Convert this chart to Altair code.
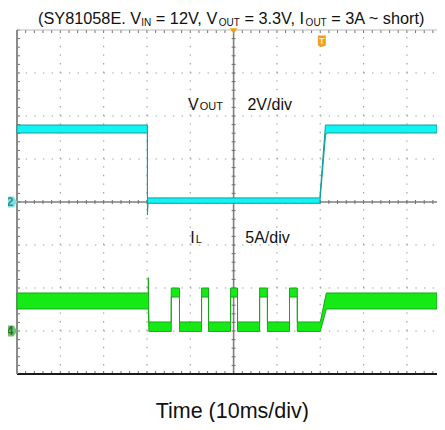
import altair as alt
import pandas as pd
import numpy as np

# ---------------- scope settings ----------------
T_END = 96.95         # visible part of the 10 x 10 ms screen (ms)
V_PER_DIV = 2.0       # CH2 : Vout, 2 V/div, ground at 0 div
A_PER_DIV = 5.0       # CH4 : IL, 5 A/div, ground at -3 div
V_GND = 0.0
I_GND = -3.0

# ---------------- Vout envelope (V) ----------------
vout_t  = [0.0, 30.1, 30.11, 30.25, 69.9, 71.2, 71.4, 96.95]
vout_hi = [3.58, 3.58, 0.19, 0.19, 0.19, 3.58, 3.58, 3.58]
vout_lo = [3.21, 3.21, -0.60, -0.06, -0.06, 3.05, 3.21, 3.21]

# ---------------- IL envelope (A) ----------------
il_t  = [0.0, 30.3, 30.31, 30.45, 35.6, 35.61, 37.5, 37.51, 42.6, 42.61, 44.2, 44.21,
         49.3, 49.31, 50.9, 50.91, 56.0, 56.01, 57.8, 57.81, 62.9, 62.91, 64.7, 64.71,
         70.0, 71.4, 96.95]
il_hi = [4.42, 4.42, 6.2, 1.05, 1.05, 5.0, 5.0, 1.05, 1.05, 5.0, 5.0, 1.05,
         1.05, 5.0, 5.0, 1.05, 1.05, 5.0, 5.0, 1.05, 1.05, 5.0, 5.0, 1.05,
         1.05, 4.42, 4.42]
il_lo = [2.56, 2.56, 2.56, -0.05, -0.05, 3.95, 3.95, -0.05, -0.05, 3.95, 3.95, -0.05,
         -0.05, 3.95, 3.95, -0.05, -0.05, 3.95, 3.95, -0.05, -0.05, 3.95, 3.95, -0.05,
         -0.05, 2.56, 2.56]

# ---------------- texts ----------------
title_segments = [("(SY81058E. V", False), ("IN", True), (" = 12V, V", False), ("OUT", True),
                  (" = 3.3V, I", False), ("OUT", True), (" = 3A ~ short)", False)]
x_label = "Time (10ms/div)"
ch_labels = [("V", "OUT", "2V/div", 2.14), ("I", "L", "5A/div", -0.953)]

FONT = "Liberation Sans"
PX_PER_MS = 420 / T_END
PX_PER_DIV = 43.0

X = alt.Scale(domain=[0, T_END], nice=False, zero=False)
Y = alt.Scale(domain=[-4, 4], nice=False, zero=False)


def xe(f):
    return alt.X(f"{f}:Q", scale=X, axis=None)


def ye(f):
    return alt.Y(f"{f}:Q", scale=Y, axis=None)


layers = []

# ---- dotted graticule ----
hgrid = pd.DataFrame({"y": [-3, -2, -1, 1, 2, 3], "x0": 0.0, "x1": T_END})
layers.append(alt.Chart(hgrid).mark_rule(stroke="#a0a0a0", strokeWidth=1.2, strokeDash=[1.4, 7.26])
              .encode(x=xe("x0"), x2="x1:Q", y=ye("y")))
vgrid = pd.DataFrame({"t": [10, 20, 30, 40, 60, 70, 80, 90], "y0": -4.0, "y1": 4.0})
layers.append(alt.Chart(vgrid).mark_rule(stroke="#a0a0a0", strokeWidth=1.2, strokeDash=[1.4, 7.2])
              .encode(x=xe("t"), y=ye("y0"), y2="y1:Q"))

# ---- center cross lines ----
layers.append(alt.Chart(pd.DataFrame({"y": [0.0], "x0": [0.0], "x1": [T_END]}))
              .mark_rule(stroke="#808080", strokeWidth=1.3).encode(x=xe("x0"), x2="x1:Q", y=ye("y")))
layers.append(alt.Chart(pd.DataFrame({"t": [50.0], "y0": [-4.0], "y1": [4.0]}))
              .mark_rule(stroke="#808080", strokeWidth=1.6).encode(x=xe("t"), y=ye("y0"), y2="y1:Q"))

# ---- minor ticks ----
xm = np.arange(0, T_END, 2.0)
ym = np.arange(-4, 4.01, 0.2)
tk = 2.0 / PX_PER_DIV
tx = 2.0 / PX_PER_MS
htick = pd.concat([
    pd.DataFrame({"t": xm, "a": -tk, "b": tk}),
    pd.DataFrame({"t": xm, "a": 4.0, "b": 4.0 - 1.5 * tk}),
    pd.DataFrame({"t": xm, "a": -4.0, "b": -4.0 + 1.5 * tk}),
])
layers.append(alt.Chart(htick).mark_rule(stroke="#707070", strokeWidth=1)
              .encode(x=xe("t"), y=ye("a"), y2="b:Q"))
vtick = pd.concat([
    pd.DataFrame({"y": ym, "a": 50 - tx, "b": 50 + tx}),
    pd.DataFrame({"y": ym, "a": 0.0, "b": 1.5 * tx}),
])
layers.append(alt.Chart(vtick).mark_rule(stroke="#707070", strokeWidth=1)
              .encode(x=xe("a"), x2="b:Q", y=ye("y")))

# ---- borders ----
layers.append(alt.Chart(pd.DataFrame({"y": [4.0], "x0": [0.0], "x1": [T_END]}))
              .mark_rule(stroke="#b8b8b8", strokeWidth=1).encode(x=xe("x0"), x2="x1:Q", y=ye("y")))
layers.append(alt.Chart(pd.DataFrame({"y": [-4.0], "x0": [0.0], "x1": [T_END]}))
              .mark_rule(stroke="#1a1a1a", strokeWidth=2).encode(x=xe("x0"), x2="x1:Q", y=ye("y")))
layers.append(alt.Chart(pd.DataFrame({"t": [0.0], "y0": [-4.0], "y1": [4.0]}))
              .mark_rule(stroke="#8a8a8a", strokeWidth=2).encode(x=xe("t"), y=ye("y0"), y2="y1:Q"))

# ---- traces ----
vdf = pd.DataFrame({"t": vout_t,
                    "hi": [V_GND + v / V_PER_DIV for v in vout_hi],
                    "lo": [V_GND + v / V_PER_DIV for v in vout_lo]})
layers.append(alt.Chart(vdf).mark_area(fill="#12f4f4", stroke="#139c9c", strokeWidth=1,
                                       opacity=1, fillOpacity=1)
              .encode(x=xe("t"), y=ye("hi"), y2="lo:Q"))
idf = pd.DataFrame({"t": il_t,
                    "hi": [I_GND + a / A_PER_DIV for a in il_hi],
                    "lo": [I_GND + a / A_PER_DIV for a in il_lo]})
layers.append(alt.Chart(idf).mark_area(fill="#16ea16", stroke="#17a817", strokeWidth=1,
                                       opacity=1, fillOpacity=1)
              .encode(x=xe("t"), y=ye("hi"), y2="lo:Q"))

# ---- channel ground markers ----
arrow = "M-1,-0.9L0.4,-0.9L1,0L0.4,0.9L-1,0.9Z"
mk = pd.DataFrame({"t": [-1.35, -1.35], "y": [V_GND, I_GND], "lab": ["2", "4"],
                   "c": ["#7ae3e3", "#6cc46c"], "tc": ["#3a8f8f", "#2f6f2f"]})
layers.append(alt.Chart(mk).mark_point(shape=arrow, size=144, filled=True, opacity=1, strokeWidth=0)
              .encode(x=xe("t"), y=ye("y"), color=alt.Color("c:N", scale=None)))
layers.append(alt.Chart(mk).mark_text(font=FONT, fontSize=12, fontWeight="bold", dx=-1, baseline="middle")
              .encode(x=xe("t"), y=ye("y"), text="lab:N", color=alt.Color("tc:N", scale=None)))

# ---- trigger markers ----
layers.append(alt.Chart(pd.DataFrame({"t": [50.0], "y": [3.98]}))
              .mark_point(shape="M-1,-0.7L1,-0.7L0,0.8Z", size=56, filled=True, color="#f5a000", opacity=1)
              .encode(x=xe("t"), y=ye("y")))
layers.append(alt.Chart(pd.DataFrame({"t": [70.36], "y": [3.744]}))
              .mark_point(shape="M-1,-1.4L1,-1.4L1,1.1L0,1.5L-1,1.1Z", size=64, filled=True,
                          color="#f0a020", opacity=1)
              .encode(x=xe("t"), y=ye("y")))
layers.append(alt.Chart(pd.DataFrame({"t": [70.36], "y": [3.744], "s": ["T"]}))
              .mark_text(font=FONT, fontSize=9, fontWeight="bold", color="#ffe9c0", baseline="middle")
              .encode(x=xe("t"), y=ye("y"), text="s:N"))

# ---- title with subscripts ----
CW = {'(': 333, ')': 333, 'S': 667, 'Y': 667, '8': 556, '1': 556, '0': 556, '5': 556, 'E': 667,
      '.': 278, ' ': 278, 'V': 667, 'I': 278, 'N': 722, '=': 584, '2': 556, ',': 278, 'O': 778,
      'U': 722, 'T': 611, '3': 556, 'A': 667, '~': 584, 's': 500, 'h': 556, 'o': 556, 'r': 333,
      't': 278, 'L': 556}
MAIN, SUB = 16.3, 10.0
T0 = 21 / PX_PER_MS
px = 0.0
main_rows, sub_rows = [], []
for txt, is_sub in title_segments:
    size = SUB if is_sub else MAIN
    lead = len(txt) - len(txt.lstrip(" "))
    start = px + lead * 0.278 * size
    row = {"t": T0 + start / PX_PER_MS, "s": txt.strip()}
    (sub_rows if is_sub else main_rows).append(row)
    px += sum(CW[c] for c in txt) / 1000 * size
TY = 4.0 + 6.3 / PX_PER_DIV
layers.append(alt.Chart(pd.DataFrame(main_rows).assign(y=TY))
              .mark_text(font=FONT, fontSize=MAIN, align="left", baseline="alphabetic", color="#111")
              .encode(x=xe("t"), y=ye("y"), text="s:N"))
layers.append(alt.Chart(pd.DataFrame(sub_rows).assign(y=TY - 2 / PX_PER_DIV))
              .mark_text(font=FONT, fontSize=SUB, align="left", baseline="alphabetic", color="#111")
              .encode(x=xe("t"), y=ye("y"), text="s:N"))

# ---- channel labels ----
LBL = 16
big_rows, small_rows, scale_rows = [], [], []
for (main, small, sc, yy), t_main, t_sc in zip(ch_labels, [39.5, 40.0], [53.2, 52.7]):
    big_rows.append({"t": t_main, "y": yy, "s": main})
    small_rows.append({"t": t_main + (CW[main] / 1000 * LBL + 1) / PX_PER_MS, "y": yy, "s": small})
    scale_rows.append({"t": t_sc, "y": yy, "s": sc})
layers.append(alt.Chart(pd.DataFrame(big_rows + scale_rows))
              .mark_text(font=FONT, fontSize=LBL, align="left", baseline="alphabetic", color="#111")
              .encode(x=xe("t"), y=ye("y"), text="s:N"))
layers.append(alt.Chart(pd.DataFrame(small_rows))
              .mark_text(font=FONT, fontSize=11, align="left", baseline="alphabetic", color="#111")
              .encode(x=xe("t"), y=ye("y"), text="s:N"))

# ---- time label ----
layers.append(alt.Chart(pd.DataFrame({"t": [49.7], "y": [-4.0 - 44 / PX_PER_DIV], "s": [x_label]}))
              .mark_text(font=FONT, fontSize=21.5, align="center", baseline="alphabetic", color="#111")
              .encode(x=xe("t"), y=ye("y"), text="s:N"))

chart = alt.layer(*layers).properties(
    width=420, height=344,
    padding={"left": 9, "top": 22, "right": 0, "bottom": 48},
    autosize=alt.AutoSizeParams(type="none"),
    background="white",
).configure_view(stroke=None)

chart.save("out.html", embed_options={"renderer": "svg", "actions": False})
